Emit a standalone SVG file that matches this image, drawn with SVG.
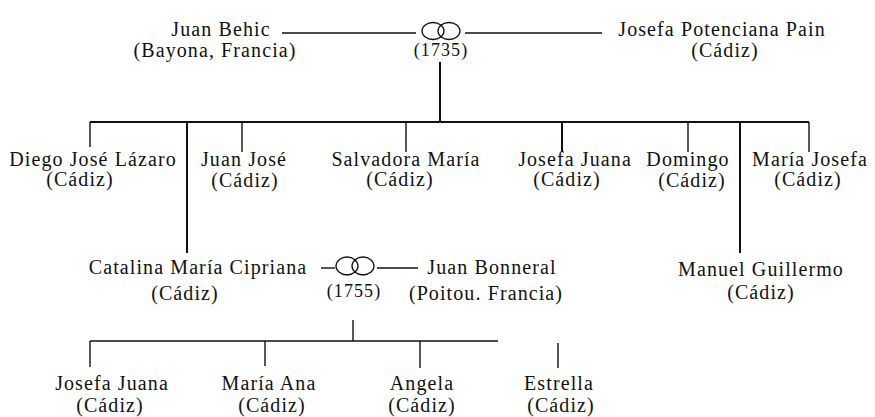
<svg xmlns="http://www.w3.org/2000/svg" width="875" height="417" viewBox="0 0 875 417">
<style>
text{font-family:"Liberation Serif","Times New Roman",serif;font-size:20px;fill:#111;text-anchor:middle;letter-spacing:1.1px}
.c line{stroke:#111;stroke-width:1.4}
.c .t{stroke-width:2}
.ring ellipse{fill:none;stroke:#111;stroke-width:1.3}
.yr{font-size:18px}
</style>
<rect width="875" height="417" fill="#fff"/>
<g class="c" id="connectors">
<line x1="282" y1="33" x2="416" y2="33"/>
<line x1="465" y1="33" x2="602" y2="33"/>
<line x1="440" y1="62" x2="440" y2="122" class="t"/>
<line x1="90" y1="122" x2="809" y2="122" class="t"/>
<line x1="90" y1="122" x2="90" y2="147"/>
<line x1="187" y1="122" x2="187" y2="253" class="t"/>
<line x1="242" y1="122" x2="242" y2="152"/>
<line x1="406" y1="122" x2="406" y2="152"/>
<line x1="562" y1="122" x2="562" y2="152" class="t"/>
<line x1="688" y1="122" x2="688" y2="152"/>
<line x1="740" y1="122" x2="740" y2="253" class="t"/>
<line x1="809" y1="122" x2="809" y2="152"/>
<line x1="321" y1="268" x2="335" y2="268"/>
<line x1="377" y1="268" x2="418" y2="268"/>
<line x1="353" y1="320" x2="353" y2="341"/>
<line x1="90" y1="341" x2="498" y2="341"/>
<line x1="90" y1="341" x2="90" y2="367"/>
<line x1="265" y1="341" x2="265" y2="366"/>
<line x1="420" y1="341" x2="420" y2="368"/>
<line x1="558" y1="343" x2="558" y2="368"/>
</g>
<g id="juan-behic"><text x="221" y="36">Juan Behic</text><text x="215" y="57">(Bayona, Francia)</text></g>
<g id="boda-1735" class="ring"><ellipse cx="433" cy="31" rx="11" ry="8.5"/><ellipse cx="449" cy="31" rx="11" ry="8.5"/><text class="yr" x="441" y="56">(1735)</text></g>
<g id="josefa-potenciana"><text x="722" y="36">Josefa Potenciana Pain</text><text x="725" y="57">(Cádiz)</text></g>
<g id="diego"><text x="93" y="166">Diego José Lázaro</text><text x="80" y="186">(Cádiz)</text></g>
<g id="juan-jose"><text x="244" y="166">Juan José</text><text x="245" y="187">(Cádiz)</text></g>
<g id="salvadora"><text x="406" y="166">Salvadora María</text><text x="400" y="186">(Cádiz)</text></g>
<g id="josefa-juana-1"><text x="575" y="166">Josefa Juana</text><text x="567" y="186">(Cádiz)</text></g>
<g id="domingo"><text x="688" y="166">Domingo</text><text x="692" y="187">(Cádiz)</text></g>
<g id="maria-josefa"><text x="810" y="166">María Josefa</text><text x="808" y="186">(Cádiz)</text></g>
<g id="catalina"><text x="198" y="274">Catalina María Cipriana</text><text x="185" y="300">(Cádiz)</text></g>
<g id="boda-1755" class="ring"><ellipse cx="347" cy="266" rx="11" ry="9"/><ellipse cx="363" cy="266" rx="11" ry="9"/><text class="yr" x="354" y="297">(1755)</text></g>
<g id="juan-bonneral"><text x="492" y="274">Juan Bonneral</text><text x="486" y="300">(Poitou. Francia)</text></g>
<g id="manuel"><text x="761" y="276">Manuel Guillermo</text><text x="761" y="299">(Cádiz)</text></g>
<g id="josefa-juana-2"><text x="112" y="390">Josefa Juana</text><text x="110" y="412">(Cádiz)</text></g>
<g id="maria-ana"><text x="269" y="390">María Ana</text><text x="272" y="412">(Cádiz)</text></g>
<g id="angela"><text x="422" y="390">Angela</text><text x="422" y="412">(Cádiz)</text></g>
<g id="estrella"><text x="559" y="390">Estrella</text><text x="561" y="412">(Cádiz)</text></g>
</svg>
